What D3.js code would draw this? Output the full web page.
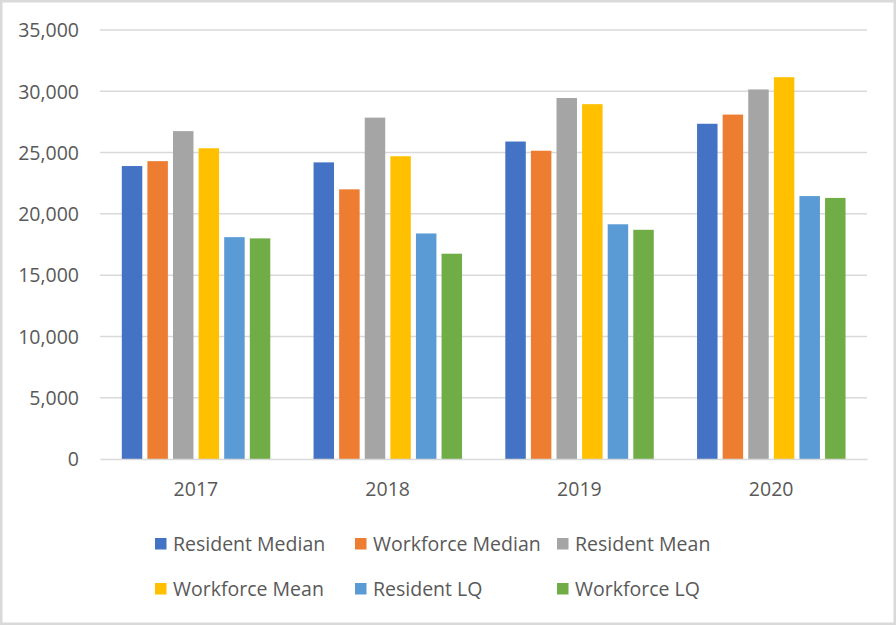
<!DOCTYPE html>
<html>
<head>
<meta charset="utf-8">
<script src="https://cdn.jsdelivr.net/npm/d3@7"></script>
<style>
  html, body { margin: 0; padding: 0; background: #fff; }
  svg { display: block; }
  text { font-family: "Open Sans", "Noto Sans", sans-serif; fill: #595959; }
</style>
</head>
<body>
<svg id="chart" width="896" height="625"></svg>
<script>
const categories = ["2017", "2018", "2019", "2020"];
const seriesNames = ["Resident Median", "Workforce Median", "Resident Mean", "Workforce Mean", "Resident LQ", "Workforce LQ"];
const residentMedian   = [23900, 24200, 25900, 27350];
const workforceMedian  = [24300, 22000, 25150, 28100];
const residentMean     = [26750, 27850, 29450, 30150];
const workforceMean    = [25350, 24700, 28950, 31150];
const residentLQ       = [18100, 18400, 19150, 21450];
const workforceLQ      = [18000, 16750, 18700, 21300];
const yTicks = [0, 5000, 10000, 15000, 20000, 25000, 30000, 35000];
const colors = ["#4472C4", "#ED7D31", "#A5A5A5", "#FFC000", "#5B9BD5", "#70AD47"];

const seriesValues = [residentMedian, workforceMedian, residentMean, workforceMean, residentLQ, workforceLQ];

const svg = d3.select("#chart");
const W = 896, H = 625;
const plot = { left: 100, right: 867, top: 30, bottom: 459 };
const FS = "19.5px";

// outer border
svg.append("rect").attr("x", 1.25).attr("y", 1.25).attr("width", W - 2.5).attr("height", H - 2.5)
  .attr("fill", "#fff").attr("stroke", "#d9d9d9").attr("stroke-width", 2.5);

const y = d3.scaleLinear().domain([0, 35000]).range([plot.bottom, plot.top]);
const x0 = d3.scaleBand().domain(categories).range([plot.left, plot.right]).padding(0);
const gStart = 21.8, step = 25.6;
const x1 = d3.scaleBand().domain(seriesNames).range([gStart, gStart + step * 5.8]).paddingInner(0.2).paddingOuter(0);

// gridlines
svg.append("g").selectAll("line").data(yTicks.filter(d => d > 0)).join("line")
  .attr("x1", plot.left).attr("x2", plot.right)
  .attr("y1", d => y(d)).attr("y2", d => y(d))
  .attr("stroke", "#d9d9d9").attr("stroke-width", 1.5);

// y axis labels
const yAxis = d3.axisLeft(y).tickValues(yTicks).tickSize(0).tickPadding(0).tickFormat(d3.format(","));
const gy = svg.append("g").attr("transform", `translate(79,0)`).call(yAxis);
gy.select(".domain").remove();
gy.selectAll("text").attr("x", 0).attr("dy", "0.35em")
  .style("font-family", '"Open Sans", sans-serif').style("font-size", FS).attr("fill", "#595959");

// bars
const data = [];
categories.forEach((c, i) => {
  seriesNames.forEach((s, j) => data.push({ cat: c, series: s, value: seriesValues[j][i], color: colors[j] }));
});
svg.append("g").selectAll("rect").data(data).join("rect")
  .attr("x", d => x0(d.cat) + x1(d.series))
  .attr("width", x1.bandwidth())
  .attr("y", d => y(d.value))
  .attr("height", d => y(0) - y(d.value))
  .attr("fill", d => d.color);

// x axis
const xAxis = d3.axisBottom(x0).tickSize(0).tickPadding(0);
const gx = svg.append("g").attr("transform", `translate(0,${plot.bottom})`).call(xAxis);
gx.select(".domain").attr("stroke", "#d9d9d9").attr("stroke-width", 1.5);
gx.selectAll("text").attr("y", 30).attr("dy", "0.35em")
  .style("font-family", '"Open Sans", sans-serif').style("font-size", FS).attr("fill", "#595959");

// legend
const legCols = [155, 355, 557];
const legRows = [544, 589];
const leg = svg.append("g").selectAll("g").data(seriesNames).join("g")
  .attr("transform", (d, i) => `translate(${legCols[i % 3]},${legRows[Math.floor(i / 3)]})`);
leg.append("rect").attr("x", 0).attr("y", -6).attr("width", 11.5).attr("height", 11.5)
  .attr("fill", (d, i) => colors[i]);
leg.append("text").attr("x", 18).attr("y", 0).attr("dy", "0.35em")
  .style("font-size", FS).text(d => d);
</script>
</body>
</html>
